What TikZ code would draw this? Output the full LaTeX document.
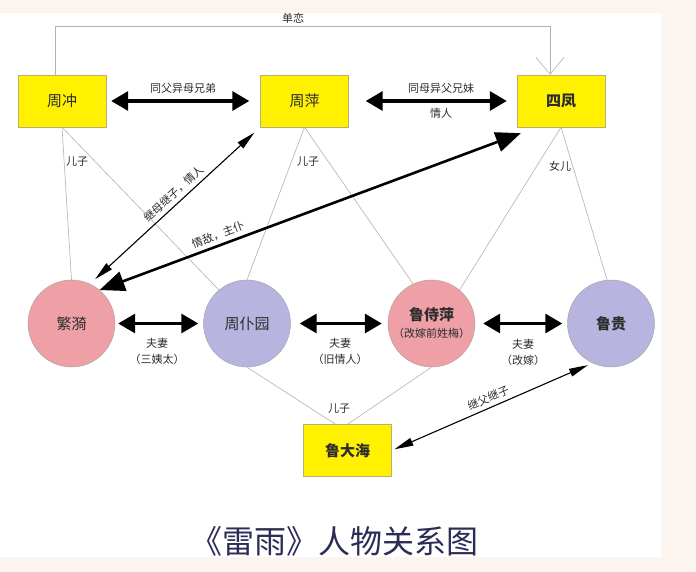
\documentclass[tikz,border=0pt]{standalone}
\usepackage{fontspec}
\setmainfont{Noto Sans CJK SC}
\usetikzlibrary{arrows.meta}
\definecolor{bgpeach}  {RGB}{252, 245, 239}
\definecolor{boxyellow}{RGB}{255, 241, 0}
\definecolor{boxedge}  {RGB}{185, 175, 110}
\definecolor{femrose}  {RGB}{238, 160, 166}
\definecolor{malelilac}{RGB}{184, 180, 224}
\definecolor{kingray}  {RGB}{178, 178, 178}
\definecolor{inkgray}  {RGB}{45,  45,  45}
\definecolor{titlenavy}{RGB}{44,  44,  86}

\begin{document}
\begin{tikzpicture}[
  x=1pt, y=-1pt,
  persbox/.style={draw=boxedge, fill=boxyellow, minimum width=88pt,
    minimum height=52pt, inner sep=0pt, text=inkgray,
    font=\fontsize{15}{18}\selectfont},
  perscirc/.style={circle, draw=gray!75, minimum size=87pt, inner sep=0pt,
    text=inkgray, font=\fontsize{15}{18}\selectfont},
  lbl/.style={text=inkgray, inner sep=1pt, font=\fontsize{11}{13}\selectfont},
  kinline/.style={kingray, line width=0.6pt},
  dblthick/.style={line width=3.2pt,
    {Triangle[length=17pt,width=19pt]}-{Triangle[length=17pt,width=19pt]}},
  dblbig/.style={line width=2.6pt,
    {Triangle[length=25pt,width=20pt]}-{Triangle[length=25pt,width=20pt]}},
  dblthin/.style={line width=1.1pt,
    {Triangle[length=19pt,width=8pt]}-{Triangle[length=19pt,width=8pt]}},
]

%% ─── 座標系 ────────────────────────────────────────────────
%%  1 単位 = 1pt, y は下向き  (696 x 572)

% ── 背景 ────────────────────────────────────────────────────
\useasboundingbox (0,0) rectangle (696,572);
\fill[bgpeach] (0,0) rectangle (696,572);
\fill[white] (0,13) rectangle (661,557);

% ── 人物（上段：方框） ──────────────────────────────────────
\node[persbox] (zc) at (62,101)    {周冲};
\node[persbox] (zp) at (304.5,101) {周萍};
\node[persbox] (sf) at (561,101)   {\bfseries 四凤};

% ── 人物（中段：圆） ────────────────────────────────────────
\node[perscirc, fill=femrose]   (fy)  at (71.5,323.5) {繁漪};
\node[perscirc, fill=malelilac] (zpy) at (247,323.5)  {周仆园};
\node[perscirc, fill=femrose, align=center] (lsp) at (431.5,323.5)
  {\bfseries 鲁侍萍\\[-1pt]{\fontsize{11}{13}\selectfont （改嫁前姓梅）}};
\node[perscirc, fill=malelilac] (lg)  at (611,323.5)  {\bfseries 鲁贵};

% ── 人物（下段） ────────────────────────────────────────────
\node[persbox] (ldh) at (347.5,450.5) {\bfseries 鲁大海};


% ════════════════════════════════════════════════════════════
%  亲子关系（细灰线）
% ════════════════════════════════════════════════════════════
\draw[kinline] (zc.south) -- (fy.north);
\draw[kinline] (zc.south) -- (zpy.130);
\draw[kinline] (zp.south) -- (zpy.north);
\draw[kinline] (zp.south) -- (lsp.115);
\draw[kinline] (sf.south) -- (lsp.50);
\draw[kinline] (sf.south) -- (lg.95);
\draw[kinline] (zpy.south) -- ([xshift=-12pt]ldh.north);
\draw[kinline] (lsp.south) -- (ldh.north);

\node[lbl] (ez1) at (77,162)  {儿子};
\node[lbl] (ez2) at (308,162) {儿子};
\node[lbl] (en1) at (560,166) {女儿};
\node[lbl] (ez3) at (339,409) {儿子};

% ── 单恋（周冲 → 四凤） ─────────────────────────────────────
\draw[kinline, -{Straight Barb[length=17pt,width=28pt]}]
  ([xshift=-7pt]zc.north) -- ++(0,-48) -| ([xshift=-11pt]sf.north);
\node[lbl] (ed) at (293,18) {单恋};


% ════════════════════════════════════════════════════════════
%  双向关系（黑色箭头）
% ════════════════════════════════════════════════════════════

% ── 上段 ─────────────────────────────────────────────────────
\draw[dblthick, shorten <=5pt, shorten >=11pt] (zc) -- (zp);
\node[lbl] (eb1) at (183,88) {同父异母兄弟};

\draw[dblthick, shorten <=17pt, shorten >=10pt] (zp) -- (sf);
\node[lbl] (eb2) at (441,88)  {同母异父兄妹};
\node[lbl] (eq1) at (441,113) {情人};

% ── 斜线 ─────────────────────────────────────────────────────
\draw[dblthin, shorten <=7pt, shorten >=8pt] (fy.65) -- (zp.south west)
  node[lbl, sloped, above=3pt, pos=0.53] (ejm) {继母继子，情人};

\draw[dblbig] (fy.50) -- ([shift={(4,6)}]sf.south west)
  node[lbl, sloped, above=3pt, pos=0.29] (eqd) {情敌，主仆};

\draw[dblthin, shorten <=3pt, shorten >=5pt] (ldh.east) -- (lg.245)
  node[lbl, sloped, above=3pt, pos=0.5] (ejf) {继父继子};

% ── 中段（夫妻） ─────────────────────────────────────────────
\draw[dblthick, shorten <=3pt, shorten >=5pt] (fy) -- (zpy);
\node[lbl, align=center] (ef1) at (157,351) {夫妻\\[3pt]（三姨太）};

\draw[dblthick, shorten <=9pt, shorten >=6pt] (zpy) -- (lsp);
\node[lbl, align=center] (ef2) at (340,351) {夫妻\\[3pt]（旧情人）};

\draw[dblthick, shorten <=8pt, shorten >=5pt] (lsp) -- (lg);
\node[lbl, align=center] (ef3) at (523,352) {夫妻\\[3pt]（改嫁）};


% ── 标题 ─────────────────────────────────────────────────────
\node[text=titlenavy, font=\fontsize{32}{38}\selectfont] (ttl)
  at (334,541) {《雷雨》人物关系图};

\end{tikzpicture}
\end{document}
